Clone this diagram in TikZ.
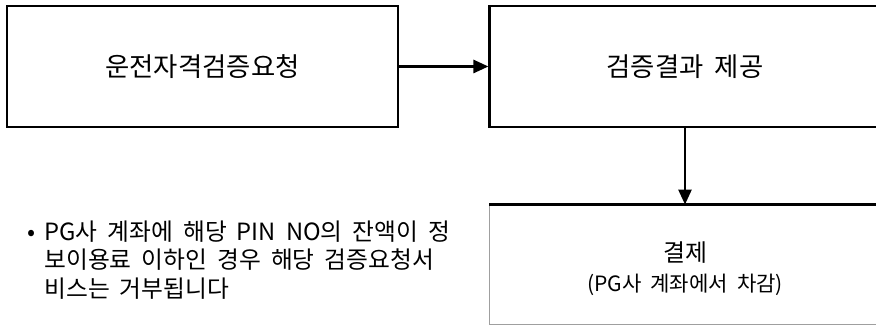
\documentclass[tikz,border=0pt]{standalone}
\usepackage{fontspec}
\setmainfont{Noto Sans CJK KR}[WordSpace=1.9]
\usetikzlibrary{positioning}
\usetikzlibrary{arrows.meta}
\usetikzlibrary{calc}

\begin{document}
\begin{tikzpicture}[sangja/.style={draw,minimum width=7.82cm,minimum height=2.42cm,line width=1.2pt,inner sep=0pt},
		hwasal/.style={-{Triangle[length=0.3cm,width=0.26cm]},line width=1.5pt}]
		\useasboundingbox (0,0) rectangle (17.52,6.5);
		\node (yocheong) [sangja,font=\fontsize{15}{18}\selectfont] at (4.05,5.17) {운전자격검증요청};
		\node (jegong) [sangja,font=\fontsize{15}{18}\selectfont] at (13.70,5.17) {검증결과 제공};
		\node (gyeolje) [sangja,draw=gray!75,line width=0.5pt,minimum height=2.38cm] at (13.70,1.21) {};
		\draw [line width=1.5pt] (gyeolje.north west) -- (gyeolje.north east);
		\node (gyeoljemal) [align=center,font=\fontsize{12}{17}\selectfont] at ($(gyeolje.center)+(0,-0.08)$) {{\fontsize{13.6}{16}\selectfont 결제}\\(PG사 계좌에서 차감)};
		\node (annae) [anchor=west,inner sep=0pt,font=\fontsize{13.5}{16.2}\selectfont] at (0.54,1.24) {\begin{tabular}{@{}p{0.34cm}@{}l@{}}
				• & PG사 계좌에 해당 PIN NO의 잔액이 정\\
				& 보이용료 이하인 경우 해당 검증요청서\\
				& 비스는 거부됩니다
			\end{tabular}};
		\draw [hwasal] (yocheong.east) -- (jegong.west);
		\draw [hwasal] (jegong.south) -- (gyeolje.north);
\end{tikzpicture}
\end{document}
